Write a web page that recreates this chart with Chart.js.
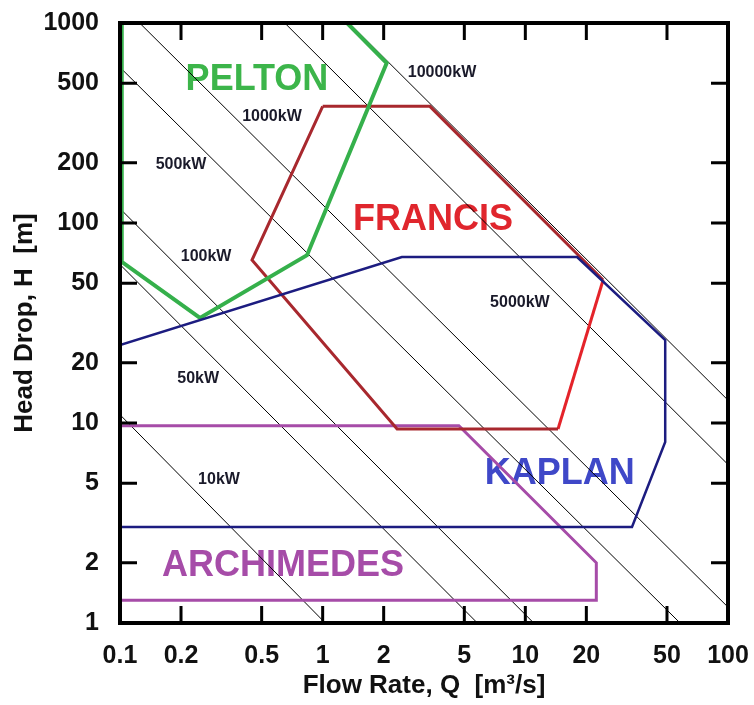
<!DOCTYPE html>
<html>
<head>
<meta charset="utf-8">
<script src="https://cdn.jsdelivr.net/npm/chart.js@4.4.1/dist/chart.umd.min.js"></script>
<style>
  body { margin: 0; background: #fff; }
  canvas { display: block; }
</style>
</head>
<body>
<canvas id="turbineChart" width="754" height="705"></canvas>
<script>
// axis ticks
const xTicks = [0.1, 0.2, 0.5, 1, 2, 5, 10, 20, 50, 100];
const yTicks = [1, 2, 5, 10, 20, 50, 100, 200, 500, 1000];

// constant power lines, endpoints (Q, H)
const powerLabels = ['10kW', '50kW', '100kW', '500kW', '1000kW', '5000kW', '10000kW'];
const powerLineQ = [[0.1, 1.03], [0.1, 5.8], [0.1, 11], [0.1, 58], [0.125, 100], [0.65, 100], [1.35, 100]];
const powerLineH = [[11, 1], [62, 1], [118, 1], [600, 1], [1000, 1.2], [1000, 6.2], [1000, 13]];
const powerLabelQ = [0.308, 0.243, 0.266, 0.2, 0.562, 9.4, 3.88];
const powerLabelH = [5.19, 16.6, 67.6, 195, 339, 39.8, 562];

// turbine envelopes
const peltonQ = [0.102, 0.102, 0.248, 0.837, 2.07, 1.32];
const peltonH = [1000, 64, 33.5, 69, 631, 1000];
const francisQ = [1.0, 3.38, 24.2, 14.5, 2.33, 0.448, 1.0];
const francisH = [383, 383, 51.9, 9.33, 9.33, 65.3, 383];
const kaplanQ = [0.1, 2.46, 18.0, 49, 49, 33.6, 0.1];
const kaplanH = [24.5, 67.6, 67.6, 26, 8.04, 3.02, 3.02];
const archQ = [0.1, 4.7, 22.4, 22.4, 0.1];
const archH = [9.7, 9.7, 2.0, 1.3, 1.3];

const turbineNames = ['PELTON', 'FRANCIS', 'KAPLAN', 'ARCHIMEDES'];
const nameQ = [0.474, 3.5, 14.8, 0.637];
const nameH = [519, 103.5, 5.56, 1.93];
const nameColors = ['#3cb54a', '#e0262d', '#3f48c8', '#a64ca8'];

const FONT = '"Liberation Sans", Arial, sans-serif';

function pts(qs, hs) {
  return qs.map((q, i) => ({ x: q, y: hs[i] }));
}

const datasets = [
  { data: pts(peltonQ, peltonH), borderColor: '#35b04b', borderWidth: 4, order: 1 },
  { data: pts(francisQ, francisH), borderColor: '#a8282e', borderWidth: 3, order: 2,
    segment: { borderColor: c => c.p0DataIndex === 2 ? '#e4232a' : undefined } },
  { data: pts(kaplanQ, kaplanH), borderColor: '#1c1c80', borderWidth: 2.5, order: 0 },
  { data: pts(archQ, archH), borderColor: '#a64ca8', borderWidth: 3, order: 3 }
];
powerLabels.forEach((lbl, i) => {
  datasets.push({
    data: pts(powerLineQ[i], powerLineH[i]),
    borderColor: '#000', borderWidth: 1, order: 10
  });
});

const decor = {
  id: 'decor',
  beforeDatasetsDraw(chart) {
    const { ctx, scales: { x, y } } = chart;
    ctx.save();
    ctx.textAlign = 'center';
    ctx.textBaseline = 'middle';
    ctx.font = 'bold 36px ' + FONT;
    turbineNames.forEach((t, i) => {
      ctx.fillStyle = nameColors[i];
      ctx.fillText(t, x.getPixelForValue(nameQ[i]), y.getPixelForValue(nameH[i]));
    });
    ctx.font = 'bold 16px ' + FONT;
    ctx.fillStyle = '#1a1a2a';
    powerLabels.forEach((t, i) => {
      ctx.fillText(t, x.getPixelForValue(powerLabelQ[i]), y.getPixelForValue(powerLabelH[i]));
    });
    ctx.restore();
  },
  afterDatasetsDraw(chart) {
    const { ctx, chartArea: a, scales: { x, y } } = chart;
    ctx.save();
    ctx.strokeStyle = '#000';
    ctx.lineWidth = 3;
    const len = 17;
    ctx.beginPath();
    xTicks.slice(1, -1).forEach(v => {
      const px = x.getPixelForValue(v);
      ctx.moveTo(px, a.bottom); ctx.lineTo(px, a.bottom - len);
      ctx.moveTo(px, a.top); ctx.lineTo(px, a.top + len);
    });
    yTicks.slice(1, -1).forEach(v => {
      const py = y.getPixelForValue(v);
      ctx.moveTo(a.left, py); ctx.lineTo(a.left + len, py);
      ctx.moveTo(a.right, py); ctx.lineTo(a.right - len, py);
    });
    ctx.stroke();
    ctx.lineWidth = 4;
    ctx.strokeRect(a.left, a.top, a.right - a.left, a.bottom - a.top);
    ctx.restore();
  }
};

new Chart(document.getElementById('turbineChart'), {
  type: 'scatter',
  data: { datasets },
  options: {
    responsive: false,
    animation: false,
    showLine: true,
    layout: { padding: { top: 23, right: 26, left: 0, bottom: 0 } },
    elements: { point: { radius: 0 }, line: { tension: 0 } },
    plugins: { legend: { display: false }, tooltip: { enabled: false } },
    scales: {
      x: {
        type: 'logarithmic', min: 0.1, max: 100,
        grid: { display: false }, border: { display: false },
        afterBuildTicks: s => { s.ticks = xTicks.map(v => ({ value: v })); },
        afterFit: s => { s.height = 82; },
        ticks: { callback: v => String(v), color: '#111', padding: 5,
                 font: { family: FONT, size: 25, weight: 'bold', lineHeight: 1.64 },
                 autoSkip: false, maxRotation: 0 },
        title: { display: true, text: 'Flow Rate, Q  [m³/s]', color: '#111',
                 font: { family: FONT, size: 26, weight: 'bold' }, padding: { top: 0, bottom: 4 } }
      },
      y: {
        type: 'logarithmic', min: 1, max: 1000,
        grid: { display: false }, border: { display: false },
        afterBuildTicks: s => { s.ticks = yTicks.map(v => ({ value: v })); },
        afterFit: s => { s.width = 120; },
        ticks: { callback: v => String(v), color: '#111', padding: 13, autoSkip: false,
                 font: { family: FONT, size: 25, weight: 'bold', lineHeight: 0.5 } },
        title: { display: true, text: 'Head Drop, H  [m]', color: '#111',
                 font: { family: FONT, size: 26, weight: 'bold' }, padding: { top: 9, bottom: 0 } }
      }
    }
  },
  plugins: [decor]
});
</script>
</body>
</html>
